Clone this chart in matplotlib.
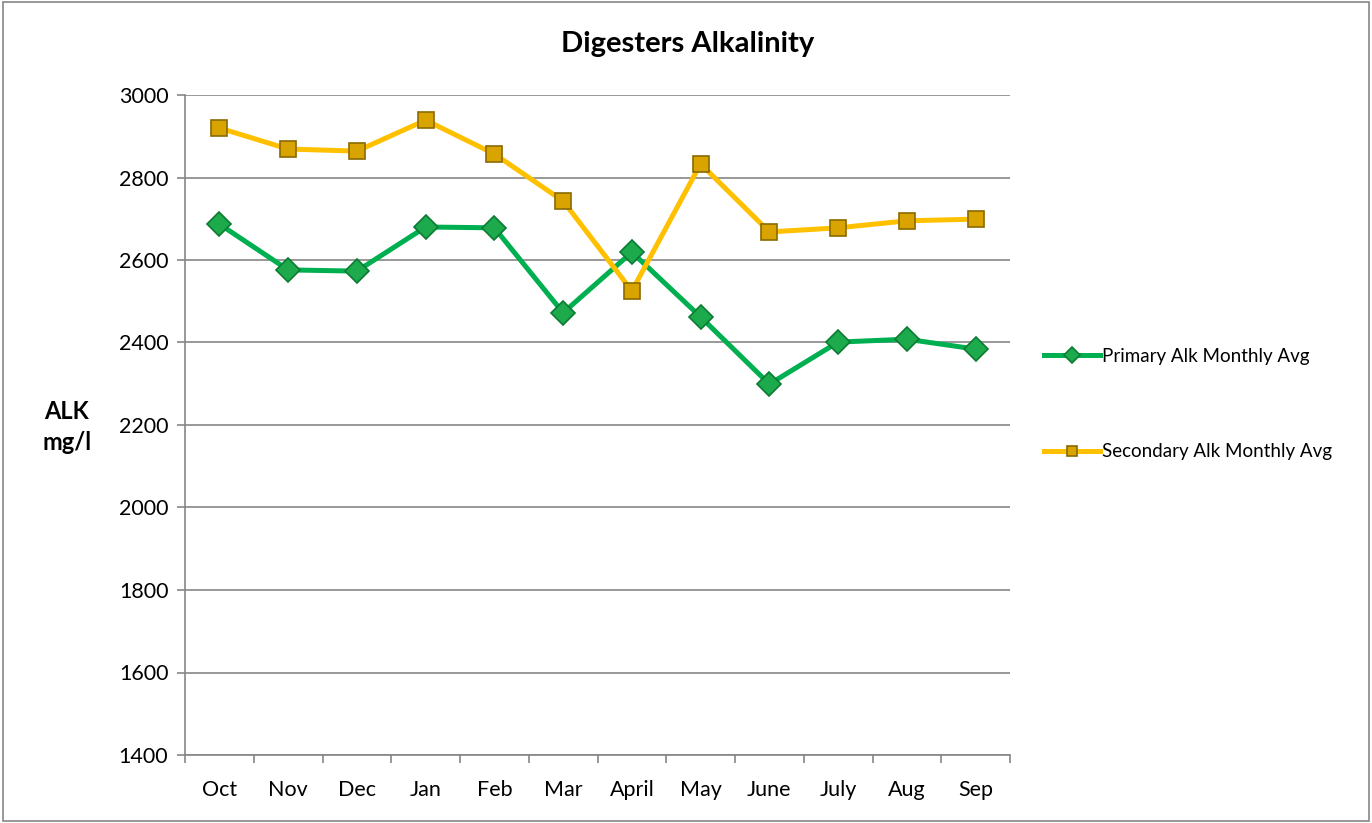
import numpy as np
import matplotlib.pyplot as plt
from matplotlib.patches import Rectangle

plt.rcParams['font.family'] = ['Lato', 'DejaVu Sans']

months = ['Oct', 'Nov', 'Dec', 'Jan', 'Feb', 'Mar', 'April', 'May', 'June',
          'July', 'Aug', 'Sep']
primary = [2687, 2576, 2573, 2680, 2678, 2472, 2619, 2462, 2299, 2401, 2408, 2384]
secondary = [2920, 2869, 2864, 2939, 2857, 2743, 2525, 2833, 2668, 2678, 2695, 2699]

fig = plt.figure(figsize=(13.72, 8.23), dpi=100)
ax = fig.add_axes([185/1372, 1-755/823, 825/1372, 660/823])

x = np.arange(len(months))
ax.plot(x, primary, color='#00B050', lw=3.6, marker='D', ms=12,
        mfc='#1DAA4C', mec='#0B7A33', mew=1.2, label='Primary Alk Monthly Avg',
        zorder=3)
ax.plot(x, secondary, color='#FFC000', lw=3.6, marker='s', ms=11,
        mfc='#D9A400', mec='#8A6A00', mew=1.2, label='Secondary Alk Monthly Avg',
        zorder=3)

ax.set_xlim(-0.5, 11.5)
ax.set_ylim(1400, 3000)
ax.set_yticks(np.arange(1400, 3001, 200))
ax.set_xticks(x)
ax.set_xticklabels(months)
ax.set_xticks(np.arange(-0.5, 12, 1), minor=True)
ax.tick_params(axis='x', which='major', length=0, pad=18, labelsize=15.5)
ax.tick_params(axis='x', which='minor', length=6, color='#868686', width=1.2)
ax.tick_params(axis='y', length=6, color='#868686', width=1.2, labelsize=15.5, pad=6)
ax.grid(axis='y', color='#868686', lw=1.2)
ax.set_axisbelow(True)
for s in ['top', 'right']:
    ax.spines[s].set_visible(False)
for s in ['left', 'bottom']:
    ax.spines[s].set_color('#868686')
    ax.spines[s].set_linewidth(1.2)

fig.text(688/1372, 1-44/823, 'Digesters Alkalinity', ha='center', va='center',
         fontsize=21, fontweight='bold')
fig.text(67/1372, 1-427/823, 'ALK\nmg/l', ha='center', va='center',
         fontsize=17, fontweight='bold', linespacing=1.4)

leg = fig.legend(loc='center left', bbox_to_anchor=(1027/1372, 1-404/823),
                 frameon=False, fontsize=13.5, labelspacing=4.2, handlelength=3.0,
                 handletextpad=0.1, markerscale=0.65)

fig.patches.append(Rectangle((0.002, 0.002), 0.996, 0.996, transform=fig.transFigure,
                             fill=False, ec='#868686', lw=1.2))

fig.savefig('out.png', dpi=100)
